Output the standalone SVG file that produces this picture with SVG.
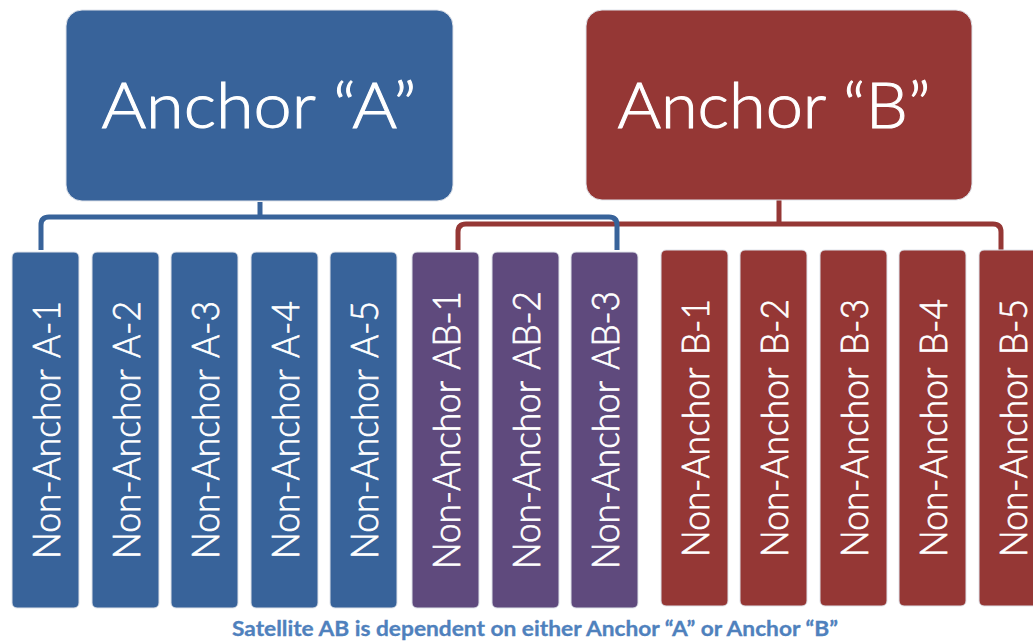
<svg xmlns="http://www.w3.org/2000/svg" width="1033" height="641" viewBox="0 0 1033 641">
<style>
.blue{fill:#38639a}
.red{fill:#953735}
.purple{fill:#5f4a7d}
.box{stroke:#dfe3ea;stroke-width:1}
.big{font-family:Lato,"Liberation Sans",sans-serif;font-size:64px;font-weight:300;fill:#fff;stroke:#fff;stroke-width:1;text-anchor:middle}
.lbl{font-family:Lato,"Liberation Sans",sans-serif;font-size:38px;font-weight:300;fill:#fff;stroke:#fff;stroke-width:0.7;text-anchor:middle;word-spacing:4px}
.cap{font-family:Lato,"Liberation Sans",sans-serif;font-size:20px;font-weight:bold;fill:#4f81bd;stroke:#4f81bd;stroke-width:0.3;text-anchor:middle}
.cb{fill:none;stroke:#38639a;stroke-width:5;stroke-linejoin:round}
.cr{fill:none;stroke:#953735;stroke-width:5;stroke-linejoin:round}
</style>
<rect width="1033" height="641" fill="#fff"/>
<g id="connectors">
<path class="cr" d="M458,250 V232 Q458,224 466,224 H993 Q1001,224 1001,232 V250"/>
<path class="cr" d="M779,200 V224"/>
<path class="cb" d="M41,250 V225 Q41,217 49,217 H609 Q617,217 617,225 V250"/>
<path class="cb" d="M260,202 V217"/>
</g>
<g id="anchorA"><rect class="blue box" x="66" y="10" width="387" height="191" rx="16"/><text class="big" x="259" y="128" textLength="315" lengthAdjust="spacingAndGlyphs">Anchor “A”</text></g>
<g id="anchorB"><rect class="red box" x="586" y="10" width="386" height="190" rx="16"/><text class="big" x="774" y="128" textLength="313" lengthAdjust="spacingAndGlyphs">Anchor “B”</text></g>
<g id="A1"><rect class="blue box" x="12" y="252" width="67" height="356" rx="5"/><text class="lbl" transform="translate(45.5,430) rotate(-90)" y="14" textLength="258" lengthAdjust="spacingAndGlyphs">Non-Anchor A-1</text></g>
<g id="A2"><rect class="blue box" x="92" y="252" width="67" height="356" rx="5"/><text class="lbl" transform="translate(125.5,430) rotate(-90)" y="14" textLength="258" lengthAdjust="spacingAndGlyphs">Non-Anchor A-2</text></g>
<g id="A3"><rect class="blue box" x="171" y="252" width="67" height="356" rx="5"/><text class="lbl" transform="translate(204.5,430) rotate(-90)" y="14" textLength="258" lengthAdjust="spacingAndGlyphs">Non-Anchor A-3</text></g>
<g id="A4"><rect class="blue box" x="251" y="252" width="67" height="356" rx="5"/><text class="lbl" transform="translate(284.5,430) rotate(-90)" y="14" textLength="258" lengthAdjust="spacingAndGlyphs">Non-Anchor A-4</text></g>
<g id="A5"><rect class="blue box" x="330" y="252" width="67" height="356" rx="5"/><text class="lbl" transform="translate(363.5,430) rotate(-90)" y="14" textLength="258" lengthAdjust="spacingAndGlyphs">Non-Anchor A-5</text></g>
<g id="AB1"><rect class="purple box" x="412" y="252" width="67" height="356" rx="5"/><text class="lbl" transform="translate(445.5,430) rotate(-90)" y="14" textLength="278" lengthAdjust="spacingAndGlyphs">Non-Anchor AB-1</text></g>
<g id="AB2"><rect class="purple box" x="492" y="252" width="67" height="356" rx="5"/><text class="lbl" transform="translate(525.5,430) rotate(-90)" y="14" textLength="278" lengthAdjust="spacingAndGlyphs">Non-Anchor AB-2</text></g>
<g id="AB3"><rect class="purple box" x="571" y="252" width="67" height="356" rx="5"/><text class="lbl" transform="translate(604.5,430) rotate(-90)" y="14" textLength="278" lengthAdjust="spacingAndGlyphs">Non-Anchor AB-3</text></g>
<g id="B1"><rect class="red box" x="661" y="250" width="67" height="356" rx="5"/><text class="lbl" transform="translate(694.5,428) rotate(-90)" y="14" textLength="258" lengthAdjust="spacingAndGlyphs">Non-Anchor B-1</text></g>
<g id="B2"><rect class="red box" x="740" y="250" width="67" height="356" rx="5"/><text class="lbl" transform="translate(773.5,428) rotate(-90)" y="14" textLength="258" lengthAdjust="spacingAndGlyphs">Non-Anchor B-2</text></g>
<g id="B3"><rect class="red box" x="820" y="250" width="67" height="356" rx="5"/><text class="lbl" transform="translate(853.5,428) rotate(-90)" y="14" textLength="258" lengthAdjust="spacingAndGlyphs">Non-Anchor B-3</text></g>
<g id="B4"><rect class="red box" x="899" y="250" width="67" height="356" rx="5"/><text class="lbl" transform="translate(932.5,428) rotate(-90)" y="14" textLength="258" lengthAdjust="spacingAndGlyphs">Non-Anchor B-4</text></g>
<g id="B5"><rect class="red box" x="979" y="250" width="67" height="356" rx="5"/><text class="lbl" transform="translate(1012.5,428) rotate(-90)" y="14" textLength="258" lengthAdjust="spacingAndGlyphs">Non-Anchor B-5</text></g>
<g id="caption"><text class="cap" x="535" y="636" textLength="606" lengthAdjust="spacingAndGlyphs">Satellite AB is dependent on either Anchor “A” or Anchor “B”</text></g>
</svg>
